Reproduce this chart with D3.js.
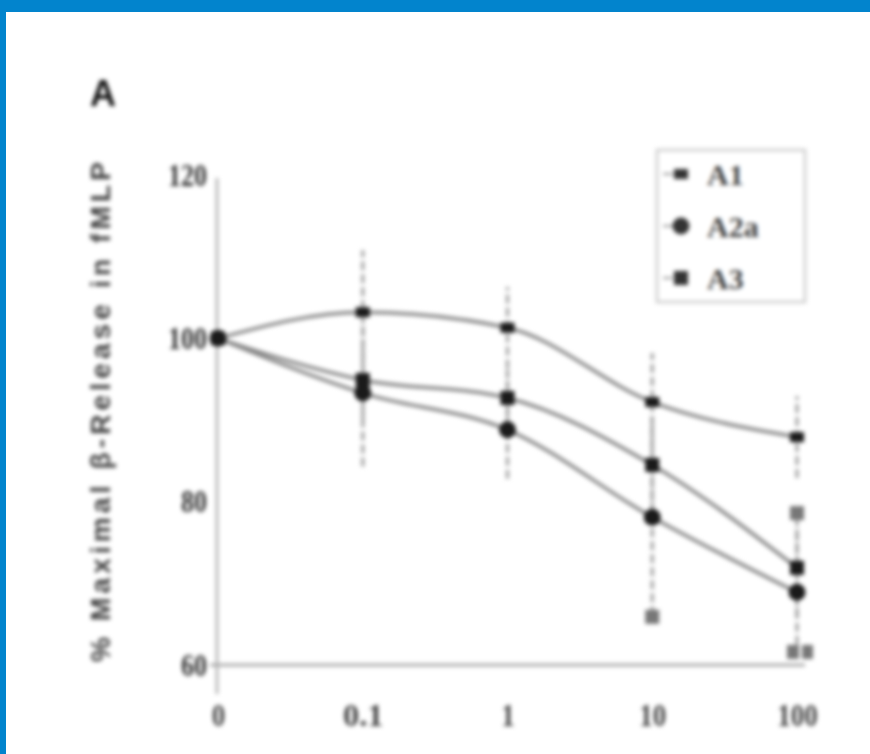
<!DOCTYPE html>
<html lang="en">
<head>
    <meta charset="utf-8">
    <title>Panel A</title>
    <script src="https://d3js.org/d3.v7.min.js"></script>
    <style>
        body {
            margin: 0;
            background: #fff;
        }
        svg {
            display: block;
        }
        .plot {
            filter: blur(1.9px);
        }
    </style>
</head>
<body>
    <svg id="chart" width="870" height="754"></svg>

    <script>
        // doses (x categories) and y ticks
        const doses = ["0", "0.1", "1", "10", "100"];
        const yTicks = [60, 80, 100, 120];

        // mean values
        const a1 = [100, 103.2, 101.3, 92.2, 87.9];
        const a2a = [100, 93.3, 88.8, 78.1, 68.9];
        const a3 = [100, 94.9, 92.7, 84.5, 71.9];

        // error bar half-widths
        const a1Err = [0, 7.6, 5, 6, 5];
        const a2aErr = [0, 9, 6, 12, 8];
        const a3Err = [0, 5, 4, 6, 6];

        // stray grey marks in the scan (dose, value)
        const strayDose = ["10", "100", "100"];
        const strayValue = [65.9, 78.6, 61.6];

        const series = [
            { name: "A1", values: a1, err: a1Err, shape: "tri" },
            { name: "A2a", values: a2a, err: a2aErr, shape: "circle" },
            { name: "A3", values: a3, err: a3Err, shape: "square" }
        ];

        const svg = d3.select("#chart");

        // blue frame of the scan (top and left edges)
        svg.append("rect").attr("x", 0).attr("y", 0).attr("width", 870).attr("height", 12).attr("fill", "#0284cd");
        svg.append("rect").attr("x", 0).attr("y", 0).attr("width", 6).attr("height", 754).attr("fill", "#0284cd");

        const g = svg.append("g").attr("class", "plot");

        const x = d3.scalePoint().domain(doses).range([218, 797]);
        const y = d3.scaleLinear().domain([60, 120]).range([665, 175]);

        // panel letter
        g.append("text")
            .attr("x", 90).attr("y", 106)
            .style("font-family", "Liberation Sans, sans-serif")
            .style("font-weight", "bold")
            .style("font-size", "36px")
            .attr("fill", "#111")
            .text("A");

        // axes
        const yAxis = d3.axisLeft(y).tickValues(yTicks).tickSize(0).tickPadding(10);
        const yG = g.append("g").attr("transform", "translate(217,0)").call(yAxis);
        yG.select(".domain").remove();
        yG.selectAll("text")
            .style("font-family", "Liberation Serif, serif")
            .style("font-weight", "bold")
            .style("font-size", "32px")
            .attr("fill", "#333")
            .attr("textLength", d => String(d).length * 13)
            .attr("lengthAdjust", "spacingAndGlyphs");

        g.append("line")
            .attr("x1", 217).attr("x2", 217)
            .attr("y1", 178).attr("y2", 694)
            .attr("stroke", "#aaa").attr("stroke-width", 2.5);

        const xAxis = d3.axisBottom(x).tickSize(0).tickPadding(38);
        const xG = g.append("g").attr("transform", "translate(0,665)").call(xAxis);
        xG.select(".domain").attr("stroke", "#aaa").attr("stroke-width", 3)
            .attr("d", "M210,0H805");
        xG.selectAll("text")
            .style("font-family", "Liberation Serif, serif")
            .style("font-weight", "bold")
            .style("font-size", "32px")
            .attr("fill", "#444")
            .attr("textLength", d => d.length * 13.5)
            .attr("lengthAdjust", "spacingAndGlyphs");

        // y axis title
        g.append("text")
            .attr("transform", "translate(110,412) rotate(-90)")
            .attr("text-anchor", "middle")
            .attr("textLength", 500)
            .attr("lengthAdjust", "spacing")
            .style("font-family", "Liberation Sans, sans-serif")
            .style("font-weight", "bold")
            .style("font-size", "28px")
            .attr("fill", "#444")
            .text("% Maximal β-Release in fMLP");

        // error bars
        series.forEach(s => {
            g.append("g").selectAll("line")
                .data(doses.map((d, i) => ({ d, v: s.values[i], e: s.err[i] })).filter(p => p.e > 0))
                .join("line")
                .attr("x1", p => x(p.d)).attr("x2", p => x(p.d))
                .attr("y1", p => y(p.v - p.e)).attr("y2", p => y(p.v + p.e))
                .attr("stroke", "#aaa")
                .attr("stroke-width", 3.5)
                .attr("stroke-dasharray", "9,4");
        });

        // curves
        const line = d3.line()
            .x((v, i) => x(doses[i]))
            .y(v => y(v))
            .curve(d3.curveMonotoneX);

        series.forEach(s => {
            g.append("path")
                .attr("d", line(s.values))
                .attr("fill", "none")
                .attr("stroke", "#888")
                .attr("stroke-width", 3.5);
        });

        function drawMarker(sel, shape, cx, cy, color) {
            if (shape === "circle") {
                sel.append("circle").attr("cx", cx).attr("cy", cy).attr("r", 8.5).attr("fill", color);
            } else if (shape === "square") {
                sel.append("rect").attr("x", cx - 7).attr("y", cy - 7).attr("width", 14).attr("height", 14).attr("fill", color);
            } else {
                sel.append("rect").attr("x", cx - 7).attr("y", cy - 5).attr("width", 14).attr("height", 10).attr("fill", color);
            }
        }

        series.forEach(s => {
            s.values.forEach((v, i) => {
                drawMarker(g, s.shape, x(doses[i]), y(v), "#1a1a1a");
            });
        });

        strayDose.forEach((d, i) => {
            const cx = x(d);
            const cy = y(strayValue[i]);
            if (i === 2) {
                // doubled mark on the axis at 100
                g.append("rect").attr("x", cx - 10).attr("y", cy - 7).attr("width", 12).attr("height", 14).attr("fill", "#777");
                g.append("rect").attr("x", cx + 5).attr("y", cy - 7).attr("width", 11).attr("height", 14).attr("fill", "#777");
            } else {
                g.append("rect").attr("x", cx - 7).attr("y", cy - 7).attr("width", 14).attr("height", 14).attr("fill", "#777");
            }
        });

        // legend
        const legend = g.append("g").attr("transform", "translate(657,150)");
        legend.append("rect")
            .attr("width", 148).attr("height", 152)
            .attr("fill", "#fff")
            .attr("stroke", "#ccc").attr("stroke-width", 2.5);

        series.forEach((s, i) => {
            const ly = 24 + i * 52;
            legend.append("line")
                .attr("x1", 6).attr("x2", 16)
                .attr("y1", ly).attr("y2", ly)
                .attr("stroke", "#999").attr("stroke-width", 2);
            drawMarker(legend, s.shape, 24, ly, "#333");
            legend.append("text")
                .attr("x", 50).attr("y", ly + 11)
                .style("font-family", "Liberation Serif, serif")
                .style("font-weight", "bold")
                .style("font-size", "30px")
                .attr("fill", "#444")
                .text(s.name);
        });
    </script>
</body>
</html>
